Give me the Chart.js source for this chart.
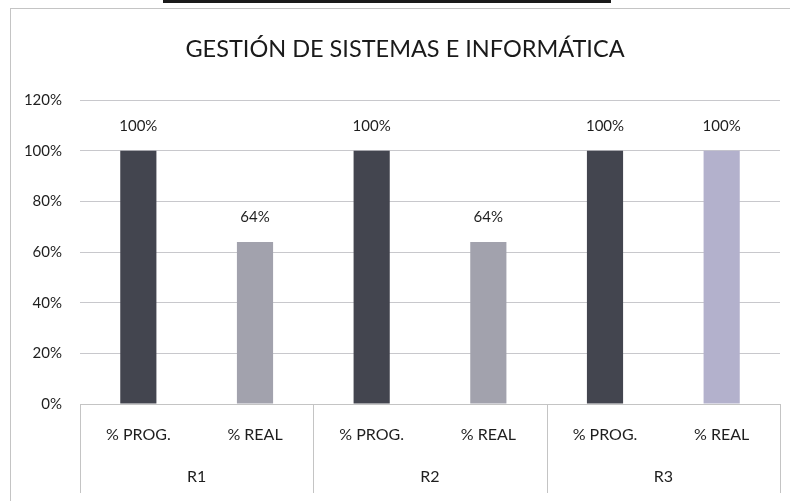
<!DOCTYPE html>
<html>
<head>
<meta charset="utf-8">
<script src="https://cdn.jsdelivr.net/npm/chart.js@4"></script>
<style>
  html, body { margin: 0; padding: 0; background: #fff; }
  #marco { position: absolute; left: 0; top: 0; width: 790px; height: 501px; }
  #borde { position: absolute; left: 10px; top: 8px; width: 790px; height: 501px;
           border-left: 1px solid #c4c4c4; border-top: 1px solid #c4c4c4; }
  #barra { position: absolute; left: 163px; top: 0; width: 448px; height: 3px; background: #1a1a1a; }
</style>
</head>
<body>
<div id="marco">
  <div id="borde"></div>
  <div id="barra"></div>
  <canvas id="grafica" width="790" height="501"></canvas>
</div>
<script>
// datos
const grupos = ['R1', 'R2', 'R3'];
const categorias = ['% PROG.', '% REAL', '% PROG.', '% REAL', '% PROG.', '% REAL'];
const valores = [100, 64, 100, 64, 100, 100];
const yMin = 0;
const yMax = 120;
const yPaso = 20;

const fuente = 'Lato, "Open Sans", sans-serif';

// lineas separadoras entre grupos y etiquetas de datos
const extras = {
  id: 'extras',
  afterDatasetsDraw(chart) {
    const ctx = chart.ctx;
    const x = chart.scales.x;
    const x2 = chart.scales.x2;
    // etiquetas sobre las barras
    const meta = chart.getDatasetMeta(0);
    ctx.save();
    ctx.font = '15px ' + fuente;
    ctx.fillStyle = '#1e1e1e';
    ctx.textAlign = 'center';
    ctx.textBaseline = 'middle';
    meta.data.forEach((bar, i) => {
      ctx.fillText(valores[i] + '%', bar.x, bar.y - 25);
    });
    // separadores
    ctx.strokeStyle = '#c4c4c4';
    ctx.lineWidth = 1;
    const porGrupo = categorias.length / grupos.length;
    for (let g = 0; g <= grupos.length; g++) {
      const px = Math.round(x.getPixelForValue(g * porGrupo - 0.5)) + 0.5;
      ctx.beginPath();
      ctx.moveTo(px, chart.chartArea.bottom);
      ctx.lineTo(px, x2.bottom);
      ctx.stroke();
    }
    ctx.restore();
  }
};

new Chart(document.getElementById('grafica'), {
  type: 'bar',
  data: {
    labels: categorias,
    datasets: [{
      data: valores,
      backgroundColor: ['#43454f', '#a2a2ad', '#43454f', '#a2a2ad', '#43454f', '#b3b1cc'],
      barPercentage: 0.62,
      categoryPercentage: 0.5
    }]
  },
  options: {
    responsive: false,
    animation: false,
    layout: { padding: { top: 0, right: 0, bottom: 8, left: 20 } },
    plugins: {
      legend: { display: false },
      tooltip: { enabled: false },
      title: {
        display: true,
        text: 'GESTIÓN DE SISTEMAS E INFORMÁTICA',
        color: '#1a1a1a',
        font: { family: fuente, size: 23.5, weight: 'normal', lineHeight: 1.2 },
        padding: { top: 35, bottom: 37 }
      }
    },
    scales: {
      y: {
        min: yMin,
        max: yMax,
        ticks: {
          stepSize: yPaso,
          callback: v => v + '%',
          color: '#1e1e1e',
          padding: 18,
          font: { family: fuente, size: 15 }
        },
        grid: { color: '#c8c8cc', drawTicks: false },
        border: { display: false },
        afterFit: s => { s.width = 60; }
      },
      // hueco a la derecha
      yDer: {
        type: 'linear',
        position: 'right',
        grid: { display: false, drawTicks: false },
        ticks: { display: false },
        border: { display: false },
        afterFit: s => { s.width = 10; }
      },
      x: {
        position: 'bottom',
        grid: { display: false, drawTicks: false },
        border: { color: '#c4c4c4' },
        ticks: {
          color: '#1e1e1e',
          padding: 21,
          maxRotation: 0,
          autoSkip: false,
          font: { family: fuente, size: 16 }
        },
        afterFit: s => { s.height = 45; }
      },
      x2: {
        type: 'category',
        labels: grupos,
        position: 'bottom',
        offset: true,
        grid: { display: false, drawTicks: false },
        border: { display: false },
        ticks: {
          color: '#1e1e1e',
          padding: 18,
          font: { family: fuente, size: 16 }
        },
        afterFit: s => { s.height = 44; }
      }
    }
  },
  plugins: [extras]
});
</script>
</body>
</html>
